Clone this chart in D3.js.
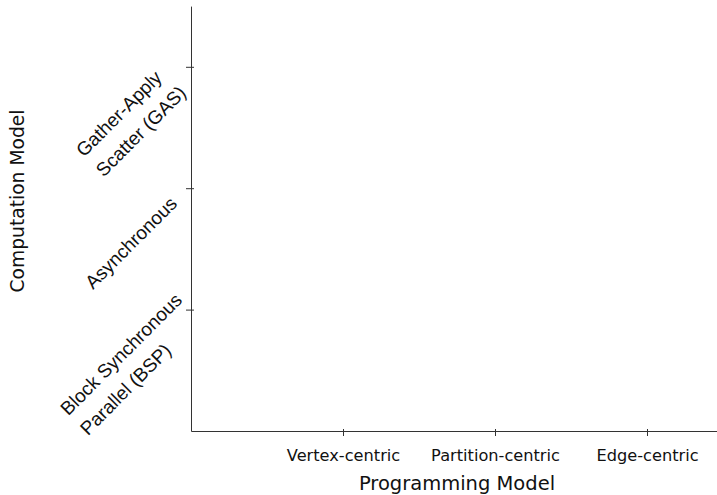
<!DOCTYPE html>
<html>
<head>
<meta charset="utf-8">
<script src="https://cdn.jsdelivr.net/npm/d3@7"></script>
<style>
  body { margin: 0; background: #fff; }
  svg { display: block; font-family: "DejaVu Sans", sans-serif; }
</style>
</head>
<body>
<svg id="chart" width="717" height="495"></svg>
<script>
var width = 717, height = 495

// categories on each axis
var xCategories = ['Vertex-centric', 'Partition-centric', 'Edge-centric']
var xPositions = [1, 2, 3]
var yCategories = [
  ['Block Synchronous', 'Parallel (BSP)'],
  ['Asynchronous'],
  ['Gather-Apply', 'Scatter (GAS)']
]
var yPositions = [1, 2, 3]
var xTitle = 'Programming Model'
var yTitle = 'Computation Model'

var left = 191, bottom = 431

var x = d3.scaleLinear().domain([0, 3.5]).range([left, left + 3.5 * 152])
var y = d3.scaleLinear().domain([0, 3.5]).range([bottom, bottom - 3.5 * 121.4])

var svg = d3.select('#chart')

// x axis
var gx = svg.append('g')
  .attr('transform', 'translate(0,' + bottom + ')')
  .call(d3.axisBottom(x)
    .tickValues(xPositions)
    .tickFormat(function(d, i) { return xCategories[i] })
    .tickSize(5)
    .tickSizeOuter(0))
gx.select('.domain').attr('stroke', '#333')
gx.selectAll('.tick line').attr('stroke', '#333').attr('y1', -2).attr('y2', 5)
gx.selectAll('.tick text')
  .attr('y', 30).attr('dy', 0)
  .attr('fill', '#111')
  .style('font-size', '16.2px')
  .style('font-family', '"DejaVu Sans", sans-serif')

// y axis
var gy = svg.append('g')
  .attr('transform', 'translate(' + left + ',0)')
  .call(d3.axisLeft(y)
    .tickValues(yPositions)
    .tickFormat('')
    .tickSize(5)
    .tickSizeOuter(0))
gy.select('.domain').attr('stroke', '#333')
gy.selectAll('.tick line').attr('stroke', '#333').attr('x1', 3).attr('x2', -5)

// rotated, multi-line y tick labels
var lineHeight = 28
gy.selectAll('.ylab')
  .data(yPositions)
  .enter()
  .append('g')
  .attr('class', 'ylab')
  .attr('transform', function(d) { return 'translate(0,' + y(d) + ') rotate(-45)' })
  .each(function(d, i) {
    var g = d3.select(this)
    var lines = yCategories[i]
    var texts = g.selectAll('text')
      .data(lines)
      .enter()
      .append('text')
      .attr('fill', '#111')
      .style('font-size', '19px')
      .attr('text-anchor', 'start')
      .attr('dy', '0.35em')
      .attr('y', function(l, j) { return -4 + (j - (lines.length - 1) / 2) * lineHeight })
      .text(function(l) { return l })
    var w = d3.max(texts.nodes(), function(n) { return n.getComputedTextLength() })
    texts.attr('x', -81 - w / 2)
  })

// axis titles
svg.append('text')
  .attr('x', (x.range()[0] + x.range()[1]) / 2)
  .attr('y', 490)
  .attr('text-anchor', 'middle')
  .attr('fill', '#111')
  .style('font-size', '19.5px')
  .text(xTitle)

svg.append('text')
  .attr('transform', 'translate(17,201) rotate(-90)')
  .attr('text-anchor', 'middle')
  .attr('dy', '0.35em')
  .attr('fill', '#111')
  .style('font-size', '18.7px')
  .text(yTitle)
</script>
</body>
</html>
